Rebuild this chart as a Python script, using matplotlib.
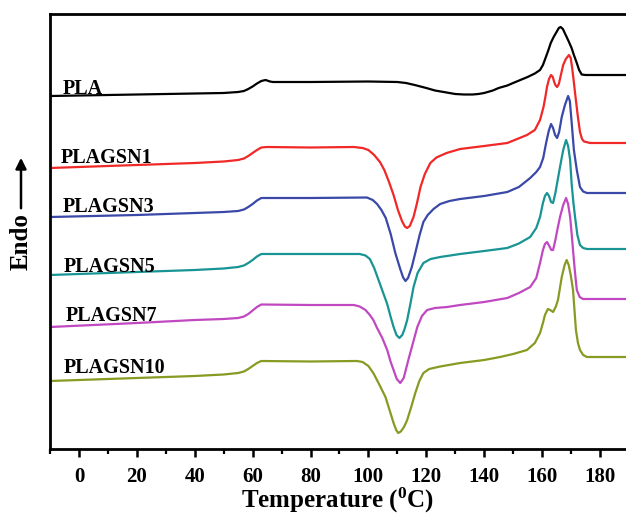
import numpy as np
import matplotlib
matplotlib.use("Agg")
import matplotlib.pyplot as plt

plt.rcParams['font.family'] = ['Liberation Serif', 'DejaVu Serif']
plt.rcParams['font.weight'] = 'bold'
plt.rcParams['mathtext.default'] = 'regular'

# ---- data (temperature in degC, heat flow in arbitrary stacked units) ----
t_pla = [-10, 10, 30, 50, 55, 57, 58.5, 60, 61.5, 63, 64.5, 66, 67, 80, 100, 110, 113, 116, 120, 123, 126, 130,
         133, 136, 138, 140, 143, 145, 148, 150, 155, 157.5, 159.3, 160.3, 161.2, 162.2, 163, 164, 165, 165.8,
         166.4, 167.2, 168, 168.5, 169.3, 170.2, 171, 172, 172.8, 173.7, 175, 180, 190]
hf_pla = [354, 355, 356, 357, 358, 359, 361, 363.5, 366.5, 369, 370, 368.5, 368, 368, 368.5, 368, 367, 365, 362,
          359.5, 358, 356, 355.5, 355.5, 356, 357, 359.5, 362, 364.5, 367, 373, 376.5, 380, 385, 392, 400, 407,
          413, 418, 422, 423, 421, 416, 413, 408, 402, 395, 387, 380, 375.5, 375, 375, 375]

t_g1 = [-10, 0, 20, 40, 50, 55, 57, 58.5, 60, 61.5, 63, 65, 80, 95, 98, 100, 102, 104, 105.5, 107, 108.7, 110.2,
        111.6, 112.6, 113.4, 114.3, 115.6, 116.8, 118, 119.5, 121.4, 123.5, 127, 131.7, 140, 148, 154.8, 157.5,
        159.3, 160.5, 161.2, 161.7, 162.4, 163.1, 163.7, 164.2, 164.7, 165.2, 165.8, 166.5, 167.3, 168.2, 169.3,
        169.9, 170.4, 170.9, 171.4, 172.3, 173.1, 173.8, 174.5, 176.6, 180, 190]
hf_g1 = [282, 283, 285, 287, 288.5, 290, 291.5, 294, 297, 300, 302.5, 303, 302.5, 303, 302, 300, 295, 288, 280,
         269, 255, 240, 229, 223.5, 222, 224, 233, 247, 263, 276, 287, 292.5, 297, 301, 304, 307, 315, 320,
         330, 343, 354, 363, 371, 375, 373, 368, 364.5, 363, 366, 375, 385, 391, 395,
         392, 382, 370, 357, 335, 318, 311, 308.5, 307, 307, 307]

t_g3 = [-10, 20, 40, 50, 55, 57, 58.5, 60, 61.5, 63, 80, 99.5, 101.5, 103, 104.5, 106, 107.7, 109.3, 111, 112,
        112.8, 113.7, 115, 116.2, 117.7, 119, 120.5, 122.5, 124.8, 128, 131.7, 140, 148, 152, 155.9, 158, 159.3,
        160.4, 161.4, 162.3, 163.1, 163.8, 164.5, 165.2, 165.9, 166.8, 167.9, 169, 169.6, 170.3, 171, 172, 173.1,
        174.2, 175.5, 180, 190]
hf_g3 = [233, 235, 237, 238, 239, 240.5, 243, 246, 249.5, 252, 252, 252.5, 250, 246, 240, 232, 216, 197, 181, 172.5,
         169, 172, 183, 197, 215, 228, 235, 241, 246, 249, 251, 254, 258, 263, 272, 278, 283,
         292, 307, 319, 326, 322, 315, 312, 318, 333, 345, 354, 349, 325, 300, 280, 263,
         258.5, 257, 257, 257]

t_g5 = [-10, 20, 40, 50, 55, 57, 58.5, 60, 61.5, 63, 80, 97, 99, 100.5, 102, 103.5, 105, 106.5, 107.7, 108.7, 109.7,
        110.7, 111.7, 112.5, 113.4, 114.5, 115.6, 117, 119, 121.5, 124.8, 131.7, 140, 148, 152, 155.9, 158, 159.3,
        160.3, 161, 161.7, 162.4, 163.1, 163.8, 164.6, 165.4, 166.2, 167.3, 168.3, 169, 169.7, 170.2, 170.8, 171.4,
        172.2, 173.1, 174.2, 175.5, 180, 190]
hf_g5 = [175, 178, 180, 181.5, 183, 184.5, 187, 190, 193.5, 196, 196, 196, 194.5, 191, 182, 170, 158, 146, 133, 123,
         115, 112, 115, 121, 130, 146, 163, 177, 187, 191, 193, 196, 199, 202, 206.5, 213, 222, 233,
         247, 254, 257, 254, 248, 247, 257, 270, 283, 300, 310, 304, 290, 267, 248, 233,
         215, 205, 202, 201, 201, 201]

t_g7 = [-10, 20, 40, 50, 55, 57, 58.5, 60, 61.5, 63, 80, 95, 97, 99, 100.5, 101.7, 103, 104.8, 106.5, 107.7, 108.7,
        109.8, 111, 112.2, 113.8, 115.3, 116.9, 118.5, 120.3, 123, 127.2, 131.7, 140, 148, 152, 155.9, 158, 159.3,
        160.3, 161, 161.7, 162.5, 163.2, 163.8, 164.6, 165.4, 166.2, 167.3, 168.3, 169, 169.7, 170.2, 170.7, 171.3,
        172, 173, 174.1, 180, 190]
hf_g7 = [123, 127, 130, 131, 132, 133.5, 136, 139.5, 143, 145.5, 145, 145, 143.5, 140, 135, 130, 122, 112, 100, 88, 80,
         71, 67, 72, 90, 106, 123, 134, 140, 142, 143, 145, 148, 152, 157, 163, 172, 187,
         200, 206, 208, 204, 200, 200, 210, 222, 233, 245, 252, 246, 233, 217, 200, 180,
         160, 153, 151, 151, 151]

t_g10 = [-10, 20, 40, 50, 55, 57, 58.5, 60, 61.5, 63, 80, 96, 98, 100, 101.7, 103.5, 105.9, 107.3, 108.7, 109.6,
         110.3, 111.2, 112.3, 113.4, 114.8, 116.2, 117.6, 119, 121, 124.8, 131.7, 140, 145.5, 150, 154.8, 157.5,
         159.3, 160.3, 161, 162, 162.8, 163.8, 164.7, 165.5, 166.8, 167.8, 168.5, 169.2, 169.9, 170.7, 171.2,
         171.7, 172.4, 173.1, 174.2, 175.5, 180, 190]
hf_g10 = [69, 72, 74, 75.5, 77, 78.5, 81, 84, 87, 89, 88.5, 89, 88, 84, 77, 67, 53, 40, 27, 20,
          17, 18.5, 23, 30, 43, 57, 69, 77, 81, 83.5, 87, 90, 93, 96, 100, 107,
          117, 127, 135, 141, 140, 138, 143, 150, 173, 185, 190, 185, 175, 160, 140,
          120, 107, 100, 95, 93, 93, 93]

names = ["PLA", "PLAGSN1", "PLAGSN3", "PLAGSN5", "PLAGSN7", "PLAGSN10"]
label_t = [-5.5, -6.2, -5.5, -5.2, -4.5, -5.2]
label_hf = [355, 286, 237, 177, 128, 76]
colors = ["#000000", "#F02828", "#3A48A8", "#189494", "#C048C0", "#889A22"]

xticks = [0, 20, 40, 60, 80, 100, 120, 140, 160, 180]

series = [(t_pla, hf_pla), (t_g1, hf_g1), (t_g3, hf_g3), (t_g5, hf_g5), (t_g7, hf_g7), (t_g10, hf_g10)]

fig = plt.figure(figsize=(6.26, 5.21), dpi=100)
ax = fig.add_axes([50 / 626, 1 - 449 / 521, 1 - 50 / 626, (449 - 14) / 521])

for (t, hf), c, n, lt, lh in zip(series, colors, names, label_t, label_hf):
    ax.plot(t, hf, color=c, lw=1.6, solid_joinstyle='round', antialiased=True)
    ax.text(lt, lh + 1, n, fontsize=14.5, fontweight='bold', ha='left', va='baseline', color='black')

ax.set_xlim(-9.7, 189)
ax.set_ylim(1, 436)
ax.set_xticks(xticks)
ax.set_xticks(np.arange(-10, 190, 10), minor=True)
ax.set_yticks([])
ax.tick_params(axis='x', which='major', direction='out', length=6, width=1.8, pad=7, labelsize=15)
ax.tick_params(axis='x', which='minor', direction='out', length=3.5, width=1.6)
for lab in ax.get_xticklabels():
    lab.set_fontweight('bold')
for s in ['left', 'top', 'bottom']:
    ax.spines[s].set_linewidth(2.0)
ax.spines['right'].set_visible(False)

fig.text(338 / 626, 1 - 508 / 521, r'Temperature ($^{0}$C)', fontsize=18, fontweight='bold',
         ha='center', va='baseline')
fig.text(21 / 626, 1 - 242 / 521, 'Endo', fontsize=18, fontweight='bold', rotation=90,
         ha='center', va='center')
fig.add_artist(matplotlib.patches.FancyArrowPatch((21 / 626, 1 - 211 / 521), (21 / 626, 1 - 155 / 521),
                                                  transform=fig.transFigure, arrowstyle='-|>',
                                                  mutation_scale=16, lw=1.8, color='black'))

fig.savefig("out.png", dpi=100)
